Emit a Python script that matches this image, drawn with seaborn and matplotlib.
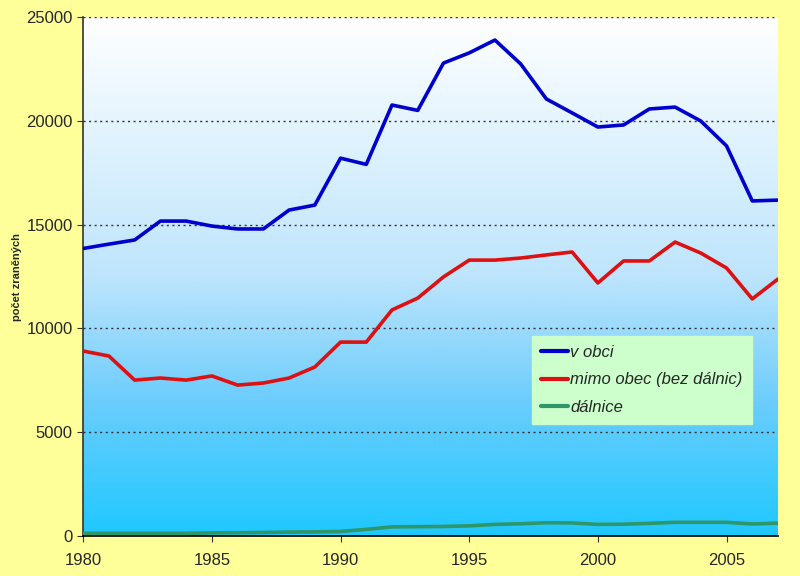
import numpy as np
import pandas as pd
import matplotlib
matplotlib.use("Agg")
import matplotlib.pyplot as plt
import seaborn as sns
from matplotlib.colors import LinearSegmentedColormap

years = list(range(1980, 2008))
v_obci = [13850, 14060, 14260, 15170, 15170, 14930, 14790, 14790, 15700, 15940,
          18200, 17900, 20760, 20500, 22780, 23270, 23890, 22740, 21050, 20380,
          19700, 19800, 20570, 20660, 19990, 18790, 16140, 16180]
mimo_obec = [8910, 8670, 7510, 7610, 7510, 7710, 7270, 7370, 7610, 8140,
             9340, 9340, 10890, 11460, 12480, 13290, 13290, 13390, 13540, 13680,
             12190, 13250, 13250, 14160, 13630, 12910, 11420, 12380]
dalnice = [130, 130, 130, 130, 130, 150, 160, 170, 190, 200,
           220, 320, 440, 450, 460, 490, 560, 590, 640, 630,
           560, 570, 610, 660, 660, 660, 580, 620]
series_names = ["v obci", "mimo obec (bez dálnic)", "dálnice"]
y_ticks = [0, 5000, 10000, 15000, 20000, 25000]
x_ticks = [1980, 1985, 1990, 1995, 2000, 2005]

df = pd.DataFrame({
    "rok": years * 3,
    "pocet": v_obci + mimo_obec + dalnice,
    "serie": [series_names[0]] * len(years) + [series_names[1]] * len(years) + [series_names[2]] * len(years),
})

sns.set_style("white")
plt.rcParams["font.family"] = ["Liberation Sans", "DejaVu Sans"]

fig = plt.figure(figsize=(8, 5.76), dpi=100, facecolor="#FFFF99")
ax = fig.add_axes([0.104, 0.0694, 0.8685, 0.9011])

cmap = LinearSegmentedColormap.from_list("bg", [
    (0.0, (1.0, 1.0, 1.0)),
    (0.5, (190/255, 229/255, 252/255)),
    (0.74, (108/255, 205/255, 252/255)),
    (1.0, (30/255, 200/255, 255/255)),
])
grad = np.linspace(0, 1, 256).reshape(-1, 1)
ax.imshow(grad, aspect="auto", cmap=cmap, extent=[1980, 2007, 0, 25000],
          origin="upper", zorder=0)

palette = {series_names[0]: "#0000CC", series_names[1]: "#DD1111", series_names[2]: "#2E9668"}
sns.lineplot(data=df, x="rok", y="pocet", hue="serie", palette=palette, ax=ax,
             linewidth=2.6, zorder=3, legend=True)

ax.set_xlim(1980, 2007)
ax.set_ylim(0, 25000)
ax.set_xticks(x_ticks)
ax.set_yticks(y_ticks)
ax.tick_params(axis="both", labelsize=12, length=4, direction="out", color="#333333",
               bottom=True, left=True)
ax.tick_params(axis="x", pad=8)
for y in y_ticks[1:]:
    ax.axhline(y, color="#333333", linestyle=(0, (1.5, 2.5)), linewidth=1, zorder=2)

ax.set_xlabel("")
ax.set_ylabel("počet zraněných", fontsize=8, fontweight="bold", labelpad=3)

for s in ["top", "right"]:
    ax.spines[s].set_visible(False)
ax.spines["left"].set_color("#333333")
ax.spines["bottom"].set_color("black")
ax.spines["left"].set_linewidth(1.2)
ax.spines["bottom"].set_linewidth(1.2)

leg = ax.legend(loc="upper left", bbox_to_anchor=(0.646, 0.386), borderaxespad=0,
                frameon=True, fancybox=False, facecolor="#CCFFCC", edgecolor="#CCFFCC",
                framealpha=1, handlelength=1.6, handletextpad=0.15,
                labelspacing=0.75, borderpad=0.55,
                prop={"style": "italic", "size": 12})
for line in leg.get_lines():
    line.set_linewidth(3)

fig.savefig("out.png", dpi=100, facecolor=fig.get_facecolor())
